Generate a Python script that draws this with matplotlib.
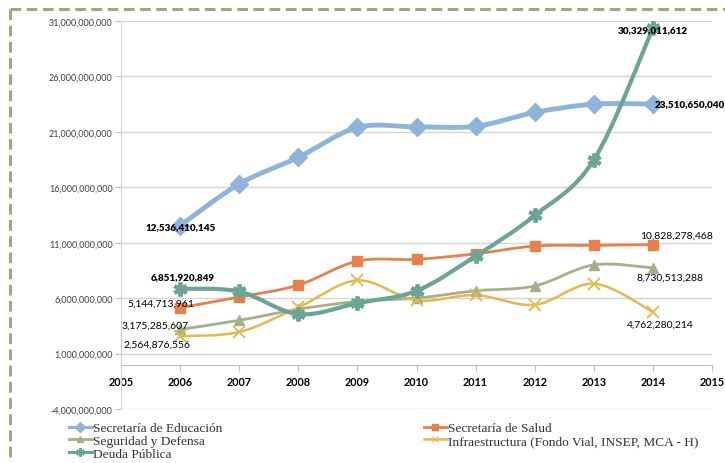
import matplotlib
matplotlib.use("Agg")
import matplotlib.pyplot as plt
from matplotlib.path import Path
from matplotlib.patches import PathPatch
from matplotlib.lines import Line2D
import numpy as np

years = [2006, 2007, 2008, 2009, 2010, 2011, 2012, 2013, 2014]
educacion = [12.536410145e9, 16.3e9, 18.7e9, 21.4e9, 21.45e9, 21.5e9, 22.75e9, 23.5e9, 23.510650040e9]
salud = [5.144713961e9, 6.1e9, 7.18e9, 9.34e9, 9.5e9, 10.0e9, 10.7e9, 10.76e9, 10.828278468e9]
seguridad = [3.175285607e9, 4.0e9, 5.0e9, 5.7e9, 6.0e9, 6.66e9, 7.1e9, 9.0e9, 8.730513288e9]
infraestructura = [2.564876556e9, 2.95e9, 5.16e9, 7.6e9, 5.8e9, 6.27e9, 5.4e9, 7.3e9, 4.762280214e9]
deuda = [6.851920849e9, 6.6e9, 4.56e9, 5.55e9, 6.66e9, 9.8e9, 13.46e9, 18.46e9, 30.329011612e9]

names = ["Secretaría de Educación", "Secretaría de Salud", "Seguridad y Defensa",
         "Infraestructura (Fondo Vial, INSEP, MCA - H)", "Deuda Pública"]
yticks = [-4e9, 1e9, 6e9, 11e9, 16e9, 21e9, 26e9, 31e9]
xticks = list(range(2005, 2016))

W, H = 725, 464
fig = plt.figure(figsize=(W / 100, H / 100), dpi=100)
ax = fig.add_axes([121 / W, (H - 410) / H, 591 / W, 388 / H])

def smooth_path(xs, ys):
    pts = np.column_stack([xs, ys]).astype(float)
    n = len(pts)
    verts = [pts[0]]
    codes = [Path.MOVETO]
    for i in range(n - 1):
        p0 = pts[i - 1] if i > 0 else pts[i]
        p1 = pts[i]
        p2 = pts[i + 1]
        p3 = pts[i + 2] if i + 2 < n else pts[i + 1]
        c1 = p1 + (p2 - p0) / 6.0
        c2 = p2 - (p3 - p1) / 6.0
        verts += [c1, c2, p2]
        codes += [Path.CURVE4] * 3
    return Path(verts, codes)

styles = [
    (educacion, "#8FB4D9", 3.5, "D", 9, None),
    (salud, "#E8804A", 2.0, "s", 7.5, None),
    (seguridad, "#A6B08A", 2.0, "^", 7.5, None),
    (infraestructura, "#E6B84D", 1.8, "x", 8, 1.3),
    (deuda, "#6BA596", 3.0, (6, 2, 0), 10, 2.8),
]

handles = []
for (vals, col, lw, mk, ms, mew), nm in zip(styles, names):
    ax.add_patch(PathPatch(smooth_path(years, vals), fill=False, edgecolor=col,
                           lw=lw, capstyle="round", joinstyle="round", zorder=3))
    kw = dict(marker=mk, markersize=ms, color=col, linestyle="none", zorder=4)
    if mew:
        kw["markeredgewidth"] = mew
    else:
        kw["markeredgecolor"] = col
    ax.plot(years, vals, **kw)
    hk = dict(color=col, lw=min(lw, 2.2), marker=mk, markersize=ms * 0.6)
    if mew:
        hk["markeredgewidth"] = mew * 0.6
    handles.append(Line2D([], [], **hk))

for s in ["top", "right"]:
    ax.spines[s].set_visible(False)
ax.spines["bottom"].set_position(("data", 0))
ax.spines["bottom"].set_color("#BFBFBF")
ax.spines["left"].set_color("#D4D4D4")

ax.set_xlim(2005, 2015)
ax.set_ylim(-4e9, 31e9)
ax.set_yticks(yticks)
ax.set_yticklabels([f"{int(v):,}" for v in yticks], fontsize=6.5, color="#404040",
                   family="Lato")
ax.set_xticks(xticks)
ax.set_xticklabels([str(x) for x in xticks], fontsize=7.8, fontweight="bold",
                   family="Lato", color="#000000")
ax.grid(axis="y", color="#D4D4D4", lw=1)
ax.set_axisbelow(True)
ax.tick_params(axis="y", length=4, color="#BFBFBF", pad=2)
ax.tick_params(axis="x", length=4, color="#BFBFBF", pad=4)

lab_font = dict(family="Lato", color="#000000")
def lab(x, y, text, dx, dy, ha="center", bold=False):
    ax.annotate(text, (x, y), xytext=(dx, dy), textcoords="offset points",
                ha=ha, va="center", fontweight="heavy" if bold else "normal",
                fontsize=7.1 if bold else 7.5, zorder=6, **lab_font)

lab(2006, educacion[0], "12,536,410,145", 0, -0.5, bold=True)
lab(2006, deuda[0], "6,851,920,849", 2, 9, bold=True)
lab(2006, salud[0], "5,144,713,961", -14, 3)
lab(2006, seguridad[0], "3,175,285,607", -18, 3)
lab(2006, infraestructura[0], "2,564,876,556", -17, -5.5)
lab(2014, deuda[-1], "30,329,011,612", 0, -0.5, bold=True)
lab(2014, educacion[-1], "23,510,650,040", 1.0, 0, ha="left", bold=True)
lab(2014, salud[-1], "10,828,278,468", 17, 7)
lab(2014, seguridad[-1], "8,730,513,288", 12, -6.5)
lab(2014, infraestructura[-1], "4,762,280,214", 5, -9)

leg_font = dict(family="Liberation Serif", size=9.6)
common = dict(loc="upper left", frameon=False, prop=leg_font, handlelength=1.7,
              handletextpad=0.1, labelspacing=0.02, borderaxespad=0, borderpad=0,
              labelcolor="#333333")
fig.legend([handles[0], handles[2], handles[4]], [names[0], names[2], names[4]],
           bbox_to_anchor=(69 / W, 1 - 423 / H), **common)
fig.legend([handles[1], handles[3]], [names[1], names[3]],
           bbox_to_anchor=(424 / W, 1 - 423 / H), **common)

# dashed frame
bc = "#A4A67C"
fig.add_artist(Line2D([9.5 / W, 1.0], [1 - 9.5 / H, 1 - 9.5 / H], transform=fig.transFigure,
                      color=bc, lw=2.2, dashes=(3.5, 1.8)))
fig.add_artist(Line2D([9.5 / W, 9.5 / W], [1 - 9.5 / H, 0], transform=fig.transFigure,
                      color=bc, lw=2.2, dashes=(3.5, 1.8)))

fig.savefig("out.png", dpi=100)
